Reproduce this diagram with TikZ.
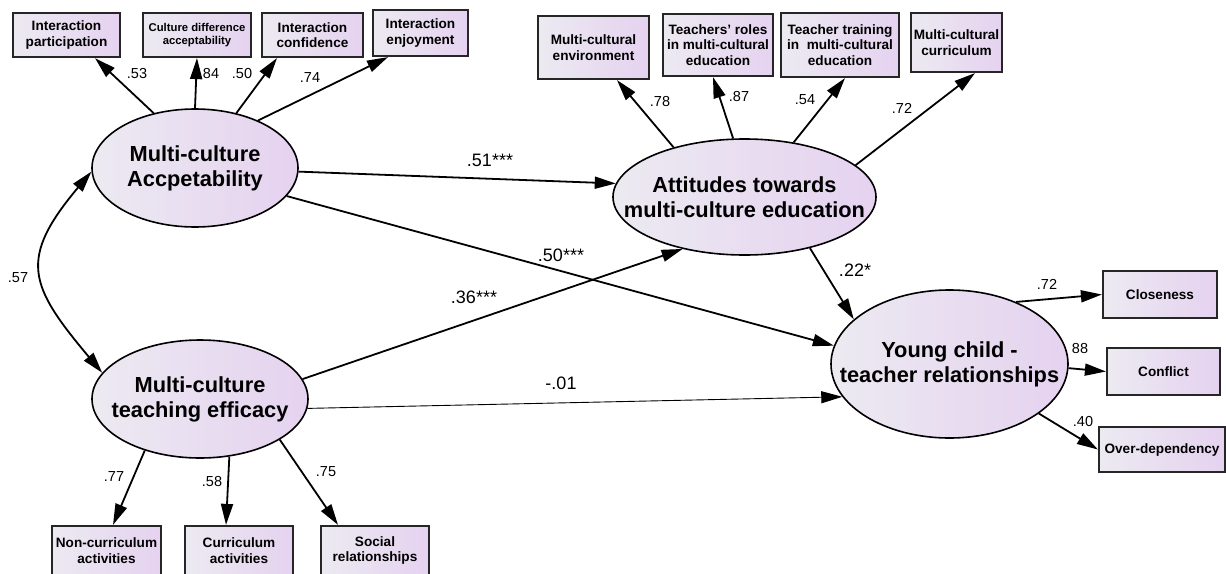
\documentclass[tikz,border=0pt]{standalone}
\usepackage{fontspec}
\setmainfont{Liberation Sans}
\usepackage{tikz}
\usetikzlibrary{arrows.meta,shapes.geometric}
\definecolor{lavleft}{RGB}{236,234,241}
\definecolor{lavright}{RGB}{229,210,240}
\tikzset{
	latent/.style={ellipse, draw=black, line width=1.6pt, left color=lavleft, right color=lavright, inner sep=0pt},
	latenttext/.style={font=\fontsize{21.8}{25}\selectfont\bfseries, align=center, inner sep=0pt},
	observed/.style={rectangle, draw=black!85, line width=2.2pt, left color=lavleft, right color=lavright, inner sep=0pt, font=\fontsize{13.6}{15.5}\selectfont\bfseries, align=center},
	regpath/.style={-{Triangle[length=21pt,width=12pt]}, line width=1.8pt},
	weakpath/.style={-{Triangle[length=21pt,width=12pt]}, line width=0.9pt},
	covpath/.style={{Triangle[length=21pt,width=12pt]}-{Triangle[length=21pt,width=12pt]}, line width=1.8pt},
	loadlbl/.style={font=\fontsize{14.5}{16}\selectfont, inner sep=0pt},
	coeflbl/.style={font=\fontsize{18}{20}\selectfont, inner sep=0pt}
}

\begin{document}
\begin{tikzpicture}[x=1pt, y=-1pt]
		%%%%% START %%%%%
		\useasboundingbox (0,0) rectangle (1226,573);
		
		% latent variables
		\node[latent, minimum width=206pt, minimum height=118pt, label={[latenttext]center:Multi-culture\\Accpetability}] (acc) at (195,168) {};
		\node[latent, minimum width=216pt, minimum height=118pt, label={[latenttext]center:Multi-culture\\teaching efficacy}] (eff) at (200,399) {};
		\node[latent, minimum width=263pt, minimum height=116pt, label={[latenttext]center:Attitudes towards\\multi-culture education}] (att) at (744.5,197) {};
		\node[latent, minimum width=237pt, minimum height=148pt, label={[latenttext]center:Young child -\\teacher relationships}] (ycr) at (949.5,364) {};
		
		% indicators of acceptability
		\node[observed, minimum width=107pt, minimum height=44pt] (ip) at (66.5,35) {Interaction\\participation};
		\node[observed, minimum width=108pt, minimum height=44pt, font=\fontsize{11.3}{13.5}\selectfont\bfseries] (cda) at (197,35) {Culture difference\\acceptability};
		\node[observed, minimum width=101pt, minimum height=44pt] (ic) at (312.5,35) {Interaction\\confidence};
		\node[observed, minimum width=95pt, minimum height=46pt] (ie) at (420.5,33) {Interaction\\enjoyment};
		
		% indicators of attitudes
		\node[observed, minimum width=111pt, minimum height=63pt] (mce) at (593.5,47.5) {Multi-cultural\\environment};
		\node[observed, minimum width=110pt, minimum height=62pt] (trm) at (718,45) {Teachers’ roles\\in multi-cultural\\education};
		\node[observed, minimum width=118pt, minimum height=64pt] (ttm) at (840,45) {Teacher training\\in~ multi-cultural\\education};
		\node[observed, minimum width=91pt, minimum height=59pt] (mcc) at (956.5,42.5) {Multi-cultural\\curriculum};
		
		% indicators of relationships
		\node[observed, minimum width=114pt, minimum height=47pt] (clo) at (1160,294.5) {Closeness};
		\node[observed, minimum width=113pt, minimum height=47pt] (con) at (1163.5,371.5) {Conflict};
		\node[observed, minimum width=126pt, minimum height=45pt] (ovd) at (1162,449.5) {Over-dependency};
		
		% indicators of efficacy
		\node[observed, minimum width=109pt, minimum height=49pt] (ncu) at (106.5,550.5) {Non-curriculum\\activities};
		\node[observed, minimum width=108pt, minimum height=49pt] (cur) at (239,550.5) {Curriculum\\activities};
		\node[observed, minimum width=108pt, minimum height=49pt] (soc) at (375,550.5) {Social\\relationships};
		
		% loadings
		\draw[regpath] (acc.127.7) -- ([xshift=28.5pt]ip.south);
		\draw[regpath] (acc.90) -- (cda.south);
		\draw[regpath] (acc.53) -- ([xshift=-35.5pt]ic.south);
		\draw[regpath] (acc.37.6) -- ([xshift=-32.5pt]ie.south);
		
		\draw[regpath] (att.145) -- ([xshift=23.5pt]mce.south);
		\draw[regpath] (att.101.4) -- ([xshift=-5pt]trm.south);
		\draw[regpath] (att.48) -- ([xshift=5pt]ttm.south);
		\draw[regpath] (att.16.6) -- ([xshift=18.5pt]mcc.south);
		
		\draw[regpath] (ycr.43.9) -- (clo.west);
		\draw[regpath] (ycr.-2) -- (con.west);
		\draw[regpath] (ycr.331.6) -- (ovd.west);
		
		\draw[regpath] (eff.223.9) -- ([xshift=6.5pt]ncu.north);
		\draw[regpath] (eff.297) -- ([xshift=-13pt]cur.north);
		\draw[regpath] (eff.333.7) -- ([xshift=-37pt]soc.north);
		
		% structural paths
		\draw[regpath] (acc.-2.2) -- (att.174.8);
		\draw[regpath] (acc.-17.5) -- (ycr.171.2);
		\draw[regpath] (eff.11) -- (att.220.75);
		\draw[weakpath] (eff.-5.7) -- (ycr.197.7);
		\draw[regpath] (att.322) -- (ycr.155.5);
		\draw[covpath] (acc.182.8) to[out=230, in=130, looseness=1.45] (eff.165.4);
		
		% labels
		\node[loadlbl] (l53) at (137,74) {.53};
		\node[loadlbl] (l84) at (211,74) {84};
		\node[loadlbl] (l50) at (242,74) {.50};
		\node[loadlbl] (l74) at (310,78) {.74};
		\node[loadlbl] (l78) at (660,102) {.78};
		\node[loadlbl] (l87) at (739,97) {.87};
		\node[loadlbl] (l54) at (805,100) {.54};
		\node[loadlbl] (l72a) at (902,108) {.72};
		\node[loadlbl] (l72b) at (1047,284) {.72};
		\node[loadlbl] (l88) at (1080,349) {88};
		\node[loadlbl] (l40) at (1083,422) {.40};
		\node[loadlbl] (l77) at (114,477) {.77};
		\node[loadlbl] (l58) at (212,482) {.58};
		\node[loadlbl] (l75) at (326,472) {.75};
		\node[loadlbl] (l57) at (18,278) {.57};
		\node[coeflbl] (c51) at (490,160) {.51***};
		\node[coeflbl] (c50) at (561,255) {.50***};
		\node[coeflbl] (c36) at (474,297) {.36***};
		\node[coeflbl] (c01) at (561,383) {-.01};
		\node[coeflbl] (c22) at (855,270) {.22*};
		
		%%%%% END %%%%%
	\end{tikzpicture}
\end{document}
